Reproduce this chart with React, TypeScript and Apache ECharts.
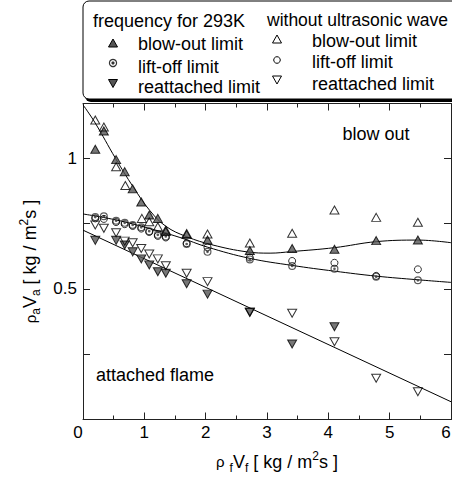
import React, { useEffect, useRef } from 'react';
import * as echarts from 'echarts';

const FONT = '"Liberation Sans", Arial, sans-serif';

// Experimental data [x = rho_f V_f, y = rho_a V_a]
const blowOutUltra = [
  [0.2, 1.035], [0.34, 1.105], [0.54, 0.995], [0.68, 0.949], [0.81, 0.883], [0.95, 0.833],
  [1.08, 0.783], [1.22, 0.770], [1.35, 0.725], [1.69, 0.708], [2.03, 0.687], [2.72, 0.647],
  [3.41, 0.655], [4.10, 0.652], [4.78, 0.685], [5.46, 0.687],
];
const blowOutPlain = [
  [0.2, 1.147], [0.34, 1.12], [0.54, 0.968], [0.69, 0.896], [0.96, 0.770], [1.08, 0.757],
  [1.22, 0.738], [1.35, 0.72], [1.69, 0.712], [2.03, 0.710], [2.72, 0.676], [3.41, 0.713],
  [4.10, 0.802], [4.78, 0.774], [5.46, 0.755],
];
const liftOffUltra = [
  [0.2, 0.775], [0.34, 0.778], [0.54, 0.761], [0.68, 0.753], [0.81, 0.745], [0.95, 0.736],
  [1.08, 0.721], [1.22, 0.707], [1.35, 0.701], [1.69, 0.672], [2.03, 0.642], [2.72, 0.613],
  [3.41, 0.588], [4.10, 0.577], [4.78, 0.547], [5.46, 0.533],
];
const liftOffPlain = [
  [0.2, 0.77], [0.34, 0.768], [0.54, 0.756], [0.68, 0.748], [0.81, 0.741], [0.95, 0.731],
  [1.08, 0.718], [1.22, 0.703], [1.35, 0.697], [1.69, 0.675], [2.03, 0.659], [2.72, 0.62],
  [3.41, 0.607], [4.10, 0.600], [4.78, 0.55], [5.46, 0.575],
];
const reattUltra = [
  [0.2, 0.686], [0.54, 0.686], [0.68, 0.668], [0.81, 0.642], [0.95, 0.615], [1.08, 0.592],
  [1.22, 0.566], [1.35, 0.56], [1.69, 0.52], [2.03, 0.48], [2.72, 0.41], [3.41, 0.289],
  [4.10, 0.355],
];
const reattPlain = [
  [0.2, 0.745], [0.34, 0.732], [0.54, 0.715], [0.68, 0.683], [0.81, 0.677], [0.95, 0.655],
  [1.08, 0.634], [1.22, 0.615], [1.35, 0.589], [1.69, 0.56], [2.03, 0.528], [2.72, 0.412],
  [3.41, 0.407], [4.10, 0.298], [4.78, 0.158], [5.46, 0.106],
];
// Fitted curves
const blowOutFit = [
  [0, 1.205], [0.2, 1.135], [0.53, 1.0], [0.82, 0.89], [1.09, 0.80], [1.35, 0.74], [1.69, 0.70],
  [2.12, 0.668], [2.67, 0.642], [3.05, 0.637], [3.4, 0.643], [4.1, 0.658], [4.78, 0.681],
  [5.46, 0.687], [6.0, 0.677],
];
const liftOffFit = [
  [0, 0.787], [0.5, 0.766], [1.0, 0.737], [1.58, 0.697], [2.03, 0.66], [2.72, 0.617],
  [3.41, 0.59], [4.1, 0.568], [4.78, 0.549], [5.46, 0.535], [6, 0.525],
];
const reattFit = [[0, 0.725], [6, 0.068]];

const xMin = 0, xMax = 6, xInterval = 1;
const yMin = 0, yMax = 1.21, yInterval = 0.25;
const yLabels = [0.5, 1];

const bullseye =
  'path://M0,5A5,5,0,1,1,10,5A5,5,0,1,1,0,5Z M1.5,5A3.5,3.5,0,1,0,8.5,5A3.5,3.5,0,1,0,1.5,5Z M3.3,5A1.7,1.7,0,1,1,6.7,5A1.7,1.7,0,1,1,3.3,5Z';

const rich = {
  n: { fontSize: 18, fontFamily: FONT, color: '#000', lineHeight: 24 },
  g: { fontSize: 15, fontFamily: FONT, color: '#000', lineHeight: 24 },
  sub: { fontSize: 12, fontFamily: FONT, color: '#000', lineHeight: 12, verticalAlign: 'bottom' },
  sup: { fontSize: 12, fontFamily: FONT, color: '#000', lineHeight: 12, verticalAlign: 'top' },
};

const axisColor = '#222';

export default function App() {
  const ref = useRef<HTMLDivElement>(null);
  useEffect(() => {
    document.body.style.margin = '0';
    const chart = echarts.init(ref.current!, null, { renderer: 'svg' });
    const openTri = { color: 'rgba(0,0,0,0)', borderColor: '#000', borderWidth: 1 };
    const fillTri = { color: '#555', borderColor: '#000', borderWidth: 1 };
    const xCommon = {
      type: 'value', min: xMin, max: xMax, interval: xInterval,
      axisLine: { show: true, onZero: false, lineStyle: { color: axisColor, width: 1 } },
      axisTick: { show: true, inside: true, length: 7, lineStyle: { color: axisColor } },
      minorTick: { show: true, splitNumber: 2, length: 4, lineStyle: { color: axisColor } },
      splitLine: { show: false },
      minorSplitLine: { show: false },
    };
    const yCommon = {
      type: 'value', min: yMin, max: yMax, interval: yInterval,
      axisLine: { show: true, onZero: false, lineStyle: { color: axisColor, width: 1 } },
      axisTick: { show: true, inside: true, length: 7, lineStyle: { color: axisColor } },
      splitLine: { show: false },
    };
    const legendFont = `18px ${FONT}`;
    const tickRich = {
      z: { fontSize: 17, fontFamily: FONT, color: '#000', padding: [0, 10, 0, 0] },
      e: { fontSize: 17, fontFamily: FONT, color: '#000', padding: [0, 10, 0, 0] },
    };
    const option: any = {
      animation: false,
      backgroundColor: '#fff',
      grid: { left: 83, top: 103.5, right: 1, bottom: 59.5, containLabel: false, outerBoundsMode: 'none' },
      xAxis: [
        {
          ...xCommon, position: 'bottom',
          axisLabel: {
            color: '#000', fontSize: 17, fontFamily: FONT, margin: 4,
            formatter: (v: number) => (v === xMin ? '{z|' + v + '}' : v === xMax ? '{e|' + v + '}' : String(v)),
            rich: tickRich,
          },
          name: '{g|ρ}{n| }{sub|f}{n|V}{sub|f}{n| [ kg / m}{sup|2}{n|s ]}',
          nameLocation: 'middle', nameGap: 30,
          nameTextStyle: { rich, padding: [0, 0, 0, 20] },
        },
        { ...xCommon, position: 'top', axisLabel: { show: false } },
      ],
      yAxis: [
        {
          ...yCommon, position: 'left',
          axisLabel: {
            color: '#000', fontSize: 17, fontFamily: FONT, margin: 6,
            formatter: (v: number) => (yLabels.some((l) => Math.abs(l - v) < 1e-9) ? String(v) : ''),
          },
          name: '{g|ρ}{sub|a}{n|V}{sub|a}{n| [ kg / m}{sup|2}{n|s ]}',
          nameLocation: 'middle', nameGap: 41, nameRotate: 90,
          nameTextStyle: { rich },
        },
        { ...yCommon, position: 'right', axisLabel: { show: false } },
      ],
      series: [
        { type: 'line', data: blowOutFit, smooth: 0.4, symbol: 'none', lineStyle: { color: '#000', width: 1 }, z: 2 },
        { type: 'line', data: liftOffFit, smooth: 0.4, symbol: 'none', lineStyle: { color: '#000', width: 1 }, z: 2 },
        { type: 'line', data: reattFit, symbol: 'none', lineStyle: { color: '#000', width: 1 }, z: 2 },
        { type: 'scatter', data: blowOutUltra, symbol: 'triangle', symbolSize: [9, 8], itemStyle: fillTri, z: 3 },
        { type: 'scatter', data: blowOutPlain, symbol: 'triangle', symbolSize: [9, 8], itemStyle: openTri, z: 4 },
        { type: 'scatter', data: liftOffUltra, symbol: bullseye, symbolSize: 8, itemStyle: { color: '#333', borderWidth: 0 }, z: 3 },
        { type: 'scatter', data: liftOffPlain, symbol: 'circle', symbolSize: 7, itemStyle: { color: 'rgba(0,0,0,0)', borderColor: '#000', borderWidth: 1 }, z: 4 },
        { type: 'scatter', data: reattUltra, symbol: 'triangle', symbolRotate: 180, symbolSize: [9, 8], itemStyle: fillTri, z: 3 },
        { type: 'scatter', data: reattPlain, symbol: 'triangle', symbolRotate: 180, symbolSize: [9, 8], itemStyle: openTri, z: 4 },
      ],
      graphic: [
        // legend box shadow + box
        { type: 'rect', z: 100, shape: { x: 85, y: 4, width: 400, height: 98, r: 6 }, style: { fill: '#000' } },
        { type: 'rect', z: 101, shape: { x: 83, y: 1, width: 400, height: 98, r: 6 }, style: { fill: '#fff', stroke: '#000', lineWidth: 1 } },
        { type: 'text', z: 102, x: 93, y: 21, style: { text: 'frequency for 293K', font: legendFont, fill: '#000', verticalAlign: 'middle' } },
        { type: 'text', z: 102, x: 267, y: 20, style: { text: 'without ultrasonic wave', font: `17.5px ${FONT}`, fill: '#000', verticalAlign: 'middle' } },
        { type: 'text', z: 102, x: 138, y: 44, style: { text: 'blow-out limit', font: legendFont, fill: '#000', verticalAlign: 'middle' } },
        { type: 'text', z: 102, x: 138, y: 67, style: { text: 'lift-off limit', font: legendFont, fill: '#000', verticalAlign: 'middle' } },
        { type: 'text', z: 102, x: 138, y: 87, style: { text: 'reattached limit', font: legendFont, fill: '#000', verticalAlign: 'middle' } },
        { type: 'text', z: 102, x: 312, y: 40.5, style: { text: 'blow-out limit', font: legendFont, fill: '#000', verticalAlign: 'middle' } },
        { type: 'text', z: 102, x: 312, y: 62, style: { text: 'lift-off limit', font: legendFont, fill: '#000', verticalAlign: 'middle' } },
        { type: 'text', z: 102, x: 312, y: 84, style: { text: 'reattached limit', font: legendFont, fill: '#000', verticalAlign: 'middle' } },
        // legend symbols
        { type: 'polygon', z: 102, shape: { points: [[108.5, 47], [117.5, 47], [113, 39]] }, style: { fill: '#555', stroke: '#000', lineWidth: 1 } },
        { type: 'circle', z: 102, shape: { cx: 113, cy: 63, r: 3.6 }, style: { fill: 'none', stroke: '#333', lineWidth: 1.2 } },
        { type: 'circle', z: 102, shape: { cx: 113, cy: 63, r: 1.6 }, style: { fill: '#333' } },
        { type: 'polygon', z: 102, shape: { points: [[108.5, 79.5], [117.5, 79.5], [113, 87.5]] }, style: { fill: '#555', stroke: '#000', lineWidth: 1 } },
        { type: 'polygon', z: 102, shape: { points: [[272.5, 43], [281.5, 43], [277, 35]] }, style: { fill: 'none', stroke: '#000', lineWidth: 1 } },
        { type: 'circle', z: 102, shape: { cx: 277, cy: 60, r: 3.3 }, style: { fill: 'none', stroke: '#000', lineWidth: 1 } },
        { type: 'polygon', z: 102, shape: { points: [[272.5, 76], [281.5, 76], [277, 84]] }, style: { fill: 'none', stroke: '#000', lineWidth: 1 } },
        // region annotations
        { type: 'text', z: 50, x: 376, y: 133.5, style: { text: 'blow out', font: legendFont, fill: '#000', align: 'center', verticalAlign: 'middle' } },
        { type: 'text', z: 50, x: 96, y: 375, style: { text: 'attached flame', font: legendFont, fill: '#000', align: 'left', verticalAlign: 'middle' } },
      ],
    };
    chart.setOption(option);
    return () => chart.dispose();
  }, []);
  return <div ref={ref} style={{ width: 452, height: 479 }} />;
}
